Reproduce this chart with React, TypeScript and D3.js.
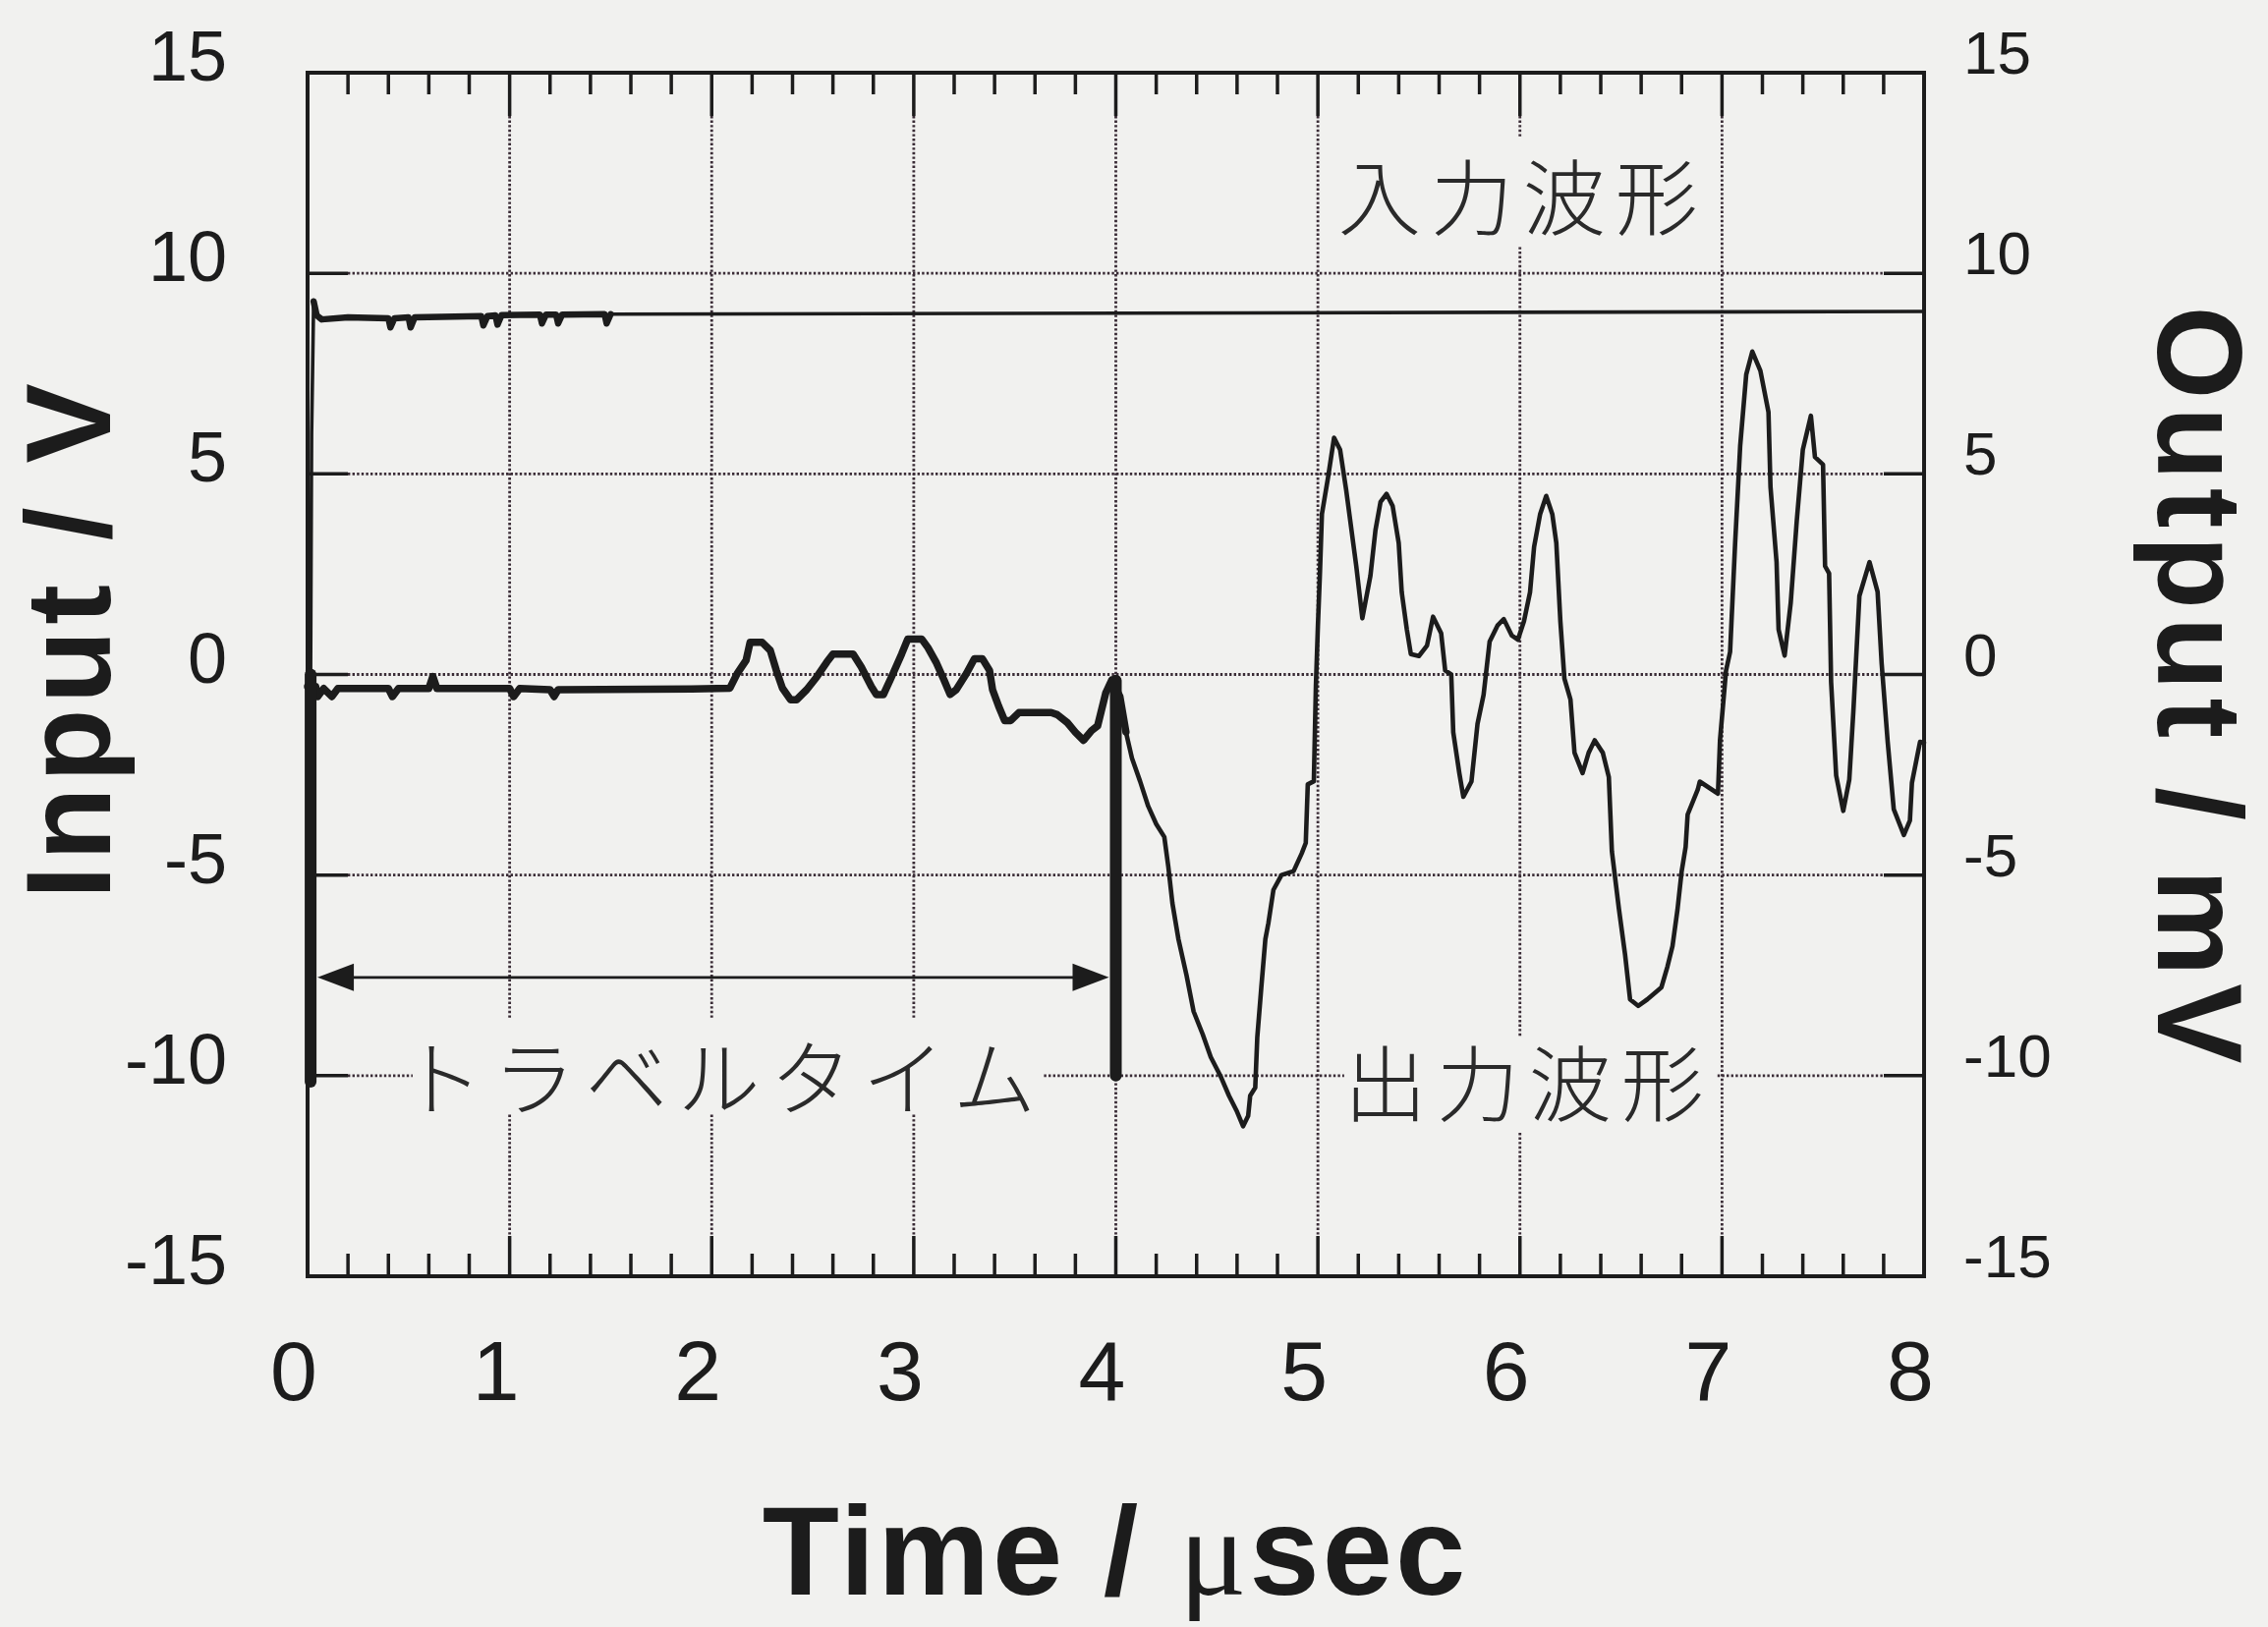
import React from 'react';
import * as d3 from 'd3';

// ---- data ----
const xTickValues = [0, 1, 2, 3, 4, 5, 6, 7, 8];
const yTickValues = [-15, -10, -5, 0, 5, 10, 15];
const gridXValues = [1, 2, 3, 4, 5, 6, 7];
const gridYValues = [-10, -5, 0, 5, 10];

// Input waveform (V), [time µs, value]
const inputWave: [number, number][] = [
  [0, 0], [0.015, 0], [0.02, 6], [0.03, 9.3], [0.045, 8.95], [0.07, 8.85], [0.2, 8.9],
  [0.4, 8.88], [0.41, 8.65], [0.43, 8.88], [0.5, 8.9], [0.51, 8.65], [0.53, 8.9],
  [0.86, 8.93], [0.87, 8.7], [0.89, 8.93], [0.93, 8.95], [0.94, 8.72], [0.96, 8.96],
  [1.15, 8.97], [1.16, 8.75], [1.18, 8.97], [1.23, 8.97], [1.24, 8.75], [1.26, 8.97],
  [1.47, 8.98], [1.48, 8.75], [1.5, 8.98], [8.0, 9.05],
];

// Output waveform (mV), early part (heavier trace)
const outputEarly: [number, number][] = [
  [0.0, -0.3], [0.04, -0.3], [0.05, -0.55], [0.08, -0.35], [0.12, -0.55], [0.15, -0.35],
  [0.4, -0.35], [0.42, -0.55], [0.45, -0.35], [0.6, -0.35], [0.62, -0.05], [0.64, -0.35],
  [1.0, -0.35], [1.02, -0.55], [1.05, -0.35], [1.2, -0.38], [1.22, -0.55], [1.24, -0.38],
  [1.9, -0.36], [2.09, -0.34], [2.126, 0.02], [2.17, 0.35], [2.19, 0.8], [2.25, 0.8],
  [2.29, 0.6], [2.32, 0.1], [2.35, -0.34], [2.39, -0.63], [2.42, -0.63], [2.47, -0.38],
  [2.52, -0.06], [2.57, 0.31], [2.6, 0.51], [2.7, 0.51], [2.74, 0.19], [2.79, -0.3],
  [2.815, -0.5], [2.85, -0.5], [2.89, -0.06], [2.94, 0.51], [2.97, 0.88], [3.04, 0.88],
  [3.07, 0.67], [3.11, 0.31], [3.15, -0.14], [3.18, -0.5], [3.21, -0.38], [3.26, 0.02],
  [3.3, 0.39], [3.34, 0.39], [3.375, 0.1], [3.39, -0.38], [3.42, -0.79], [3.45, -1.15],
  [3.48, -1.15], [3.52, -0.95], [3.68, -0.95], [3.71, -1.0], [3.76, -1.2], [3.8, -1.44],
  [3.84, -1.64], [3.88, -1.4], [3.91, -1.28], [3.95, -0.46], [3.98, -0.14], [4.02, -0.55],
  [4.05, -1.43],
];

// Output waveform (mV), later part
const outputLate: [number, number][] = [
  [4.05, -1.43], [4.08, -2.09], [4.12, -2.66], [4.16, -3.28], [4.2, -3.73], [4.24, -4.05],
  [4.26, -4.8], [4.28, -5.7], [4.31, -6.6], [4.35, -7.5], [4.385, -8.4], [4.43, -8.97],
  [4.47, -9.54], [4.52, -10.03], [4.56, -10.5], [4.6, -10.9], [4.63, -11.26], [4.655, -11.0],
  [4.665, -10.5], [4.69, -10.3], [4.7, -9.05], [4.72, -7.8], [4.74, -6.6], [4.755, -6.2],
  [4.78, -5.37], [4.82, -5.0], [4.88, -4.9], [4.92, -4.46], [4.94, -4.2], [4.95, -2.74],
  [4.98, -2.66], [4.99, -0.3], [5.0, 1.2], [5.01, 2.5], [5.02, 4.0], [5.05, 4.9],
  [5.08, 5.9], [5.11, 5.6], [5.14, 4.6], [5.19, 2.7], [5.22, 1.4], [5.26, 2.46],
  [5.285, 3.6], [5.31, 4.3], [5.34, 4.5], [5.37, 4.2], [5.4, 3.28], [5.415, 2.05],
  [5.44, 1.13], [5.46, 0.51], [5.5, 0.46], [5.54, 0.72], [5.57, 1.44], [5.61, 1.03],
  [5.63, 0.1], [5.66, 0.0], [5.67, -1.44], [5.7, -2.46], [5.72, -3.05], [5.76, -2.67],
  [5.79, -1.23], [5.82, -0.51], [5.85, 0.82], [5.89, 1.23], [5.92, 1.38], [5.96, 0.97],
  [5.99, 0.87], [6.02, 1.33], [6.05, 2.05], [6.07, 3.18], [6.1, 4.0], [6.13, 4.45],
  [6.16, 4.0], [6.18, 3.28], [6.2, 1.33], [6.22, -0.1], [6.25, -0.62], [6.27, -1.95],
  [6.31, -2.46], [6.34, -1.95], [6.37, -1.64], [6.41, -1.95], [6.44, -2.56], [6.455, -4.41],
  [6.49, -5.85], [6.52, -6.97], [6.545, -8.1], [6.585, -8.26], [6.63, -8.1], [6.7, -7.8],
  [6.73, -7.28], [6.755, -6.77], [6.78, -5.85], [6.8, -4.92], [6.82, -4.3], [6.83, -3.49],
  [6.88, -2.87], [6.89, -2.67], [6.98, -2.97], [6.99, -1.64], [7.02, 0.1], [7.04, 0.56],
  [7.065, 3.27], [7.09, 5.7], [7.12, 7.48], [7.15, 8.05], [7.19, 7.57], [7.23, 6.54],
  [7.24, 4.67], [7.27, 2.8], [7.28, 1.12], [7.31, 0.47], [7.34, 1.78], [7.37, 3.83],
  [7.4, 5.6], [7.44, 6.45], [7.46, 5.42], [7.5, 5.23], [7.51, 2.7], [7.53, 2.52],
  [7.54, -0.19], [7.565, -2.52], [7.6, -3.4], [7.63, -2.62], [7.65, -0.93], [7.68, 1.96],
  [7.73, 2.8], [7.77, 2.06], [7.79, 0.28], [7.82, -1.68], [7.85, -3.36], [7.9, -4.0],
  [7.93, -3.64], [7.94, -2.7], [7.98, -1.68], [8.0, -1.7],
];

// Travel-time markers: [time, top value, bottom value]
const travelMarkers: [number, number, number][] = [
  [0.015, 0.0, -10.15],
  [4.0, -0.15, -10.0],
];
const travelArrowLevel = -7.55;

const W = 2308;
const H = 1656;
const BG = '#f1f1ef';
const INK = '#1c1c1c';
const GRID = '#3a2c36';

export default function App() {
  const x = d3.scaleLinear().domain([0, 8]).range([313, 1958]);
  const y = d3.scaleLinear().domain([-15, 15]).range([1299, 74]);
  const [x0, x1] = x.range();
  const [yB, yT] = y.range();

  const line = d3
    .line<[number, number]>()
    .x((d) => x(d[0]))
    .y((d) => y(d[1]));

  const minorTicks = d3.range(1, 40).map((i) => i * 0.2).filter((t) => Math.abs(t - Math.round(t)) > 1e-6);
  const majorInner = xTickValues.filter((t) => t > 0 && t < 8);
  const yInner = yTickValues.filter((v) => v > -15 && v < 15);

  const numFont = '"Liberation Sans", Arial, Helvetica, sans-serif';
  const jpFont = '"Noto Sans CJK JP", "Noto Sans CJK SC", sans-serif';

  const inputThick = inputWave.filter((d) => d[0] >= 0.03 && d[0] <= 1.5);

  const ay = y(travelArrowLevel);
  const axL = x(travelMarkers[0][0]) + 7;
  const axR = x(travelMarkers[1][0]) - 7;
  const aL = 37;
  const aH = 14;

  return (
    <svg
      width={W}
      height={H}
      viewBox={`0 0 ${W} ${H}`}
      style={{ position: 'absolute', left: 0, top: 0, display: 'block', background: BG }}
    >
      <rect x={0} y={0} width={W} height={H} fill={BG} />

      {/* dotted grid */}
      <g stroke={GRID} strokeWidth={2.8} strokeDasharray="2.4 2.2" fill="none">
        {gridXValues.map((t) => (
          <line key={'gx' + t} x1={x(t)} x2={x(t)} y1={yT + 44} y2={yB - 41} />
        ))}
        {gridYValues.map((v) => (
          <line key={'gy' + v} x1={x0 + 41} x2={x1 - 41} y1={y(v)} y2={y(v)} />
        ))}
      </g>

      {/* label backgrounds interrupting the grid */}
      <rect x={x(0.52)} y={1038} width={x(3.64) - x(0.52)} height={96} fill={BG} />
      <rect x={x(5.13)} y={1055} width={x(6.97) - x(5.13)} height={98} fill={BG} />
      <rect x={x(5.06)} y={140} width={x(6.9) - x(5.06)} height={110} fill={BG} />

      {/* annotation texts */}
      <g fill="#2a2a2a" fontFamily={jpFont} fontSize={84} fontWeight={300} style={{ letterSpacing: '10px' }}>
        <text x={x(5.1)} y={y(12.0)} dominantBaseline="central">入力波形</text>
        <text x={x(0.46)} y={y(-10) - 2} dominantBaseline="central">トラベルタイム</text>
        <text x={x(5.13)} y={y(-10.1)} dominantBaseline="central">出力波形</text>
      </g>

      {/* frame */}
      <rect x={x0} y={yT} width={x1 - x0} height={yB - yT} fill="none" stroke={INK} strokeWidth={4} />

      {/* ticks */}
      <g stroke={INK} strokeWidth={3.5}>
        {majorInner.map((t) => (
          <g key={'mt' + t}>
            <line x1={x(t)} x2={x(t)} y1={yT} y2={yT + 44} />
            <line x1={x(t)} x2={x(t)} y1={yB} y2={yB - 41} />
          </g>
        ))}
        {minorTicks.map((t) => (
          <g key={'mn' + t.toFixed(1)}>
            <line x1={x(t)} x2={x(t)} y1={yT} y2={yT + 22} />
            <line x1={x(t)} x2={x(t)} y1={yB} y2={yB - 23} />
          </g>
        ))}
        {yInner.map((v) => (
          <g key={'yt' + v}>
            <line x1={x0} x2={x0 + 41} y1={y(v)} y2={y(v)} />
            <line x1={x1} x2={x1 - 41} y1={y(v)} y2={y(v)} />
          </g>
        ))}
      </g>

      {/* tick labels */}
      <g fill={INK} fontFamily={numFont}>
        {yTickValues.map((v) => (
          <text key={'yl' + v} x={231} y={y(v) + 8} fontSize={72} textAnchor="end">
            {v}
          </text>
        ))}
        {yTickValues.map((v) => (
          <text key={'yr' + v} x={1998} y={y(v) + 1} fontSize={62} textAnchor="start">
            {v}
          </text>
        ))}
        {xTickValues.map((t) => (
          <text key={'xl' + t} x={x(t) - 14} y={1425} fontSize={86} textAnchor="middle">
            {t}
          </text>
        ))}
      </g>

      {/* axis titles */}
      <g fill={INK} fontFamily={numFont} fontWeight="bold">
        <text x={1135} y={1623} fontSize={128} textAnchor="middle" style={{ letterSpacing: '3px' }}>
          Time /{' '}
          <tspan fontFamily='"Liberation Serif", "DejaVu Serif", serif' fontWeight="normal">μ</tspan>
          sec
        </text>
        <text
          transform="translate(112,650) rotate(-90)"
          fontSize={122}
          textAnchor="middle"
          style={{ letterSpacing: '5.5px' }}
        >
          Input / V
        </text>
        <text
          transform="translate(2196,701) rotate(90)"
          fontSize={122}
          textAnchor="middle"
          style={{ letterSpacing: '8px' }}
        >
          Output / mV
        </text>
      </g>

      {/* waveforms */}
      <g fill="none" stroke={INK} strokeLinejoin="round" strokeLinecap="round">
        <path d={line(inputWave) || ''} strokeWidth={3.6} />
        <path d={line(inputThick) || ''} strokeWidth={6.5} />
        <path d={line(outputEarly) || ''} strokeWidth={7.5} />
        <path d={line(outputLate) || ''} strokeWidth={4.6} />
      </g>

      {/* travel-time markers */}
      <g stroke={INK} strokeLinecap="round">
        {travelMarkers.map((m, i) => (
          <line key={'tm' + i} x1={x(m[0])} x2={x(m[0])} y1={y(m[1])} y2={y(m[2])} strokeWidth={12} />
        ))}
        <line x1={axL + aL - 4} x2={axR - aL + 4} y1={ay} y2={ay} strokeWidth={2.8} strokeLinecap="butt" />
      </g>
      <g fill={INK}>
        <path d={`M${axL},${ay} L${axL + aL},${ay - aH} L${axL + aL},${ay + aH} Z`} />
        <path d={`M${axR},${ay} L${axR - aL},${ay - aH} L${axR - aL},${ay + aH} Z`} />
      </g>
    </svg>
  );
}
